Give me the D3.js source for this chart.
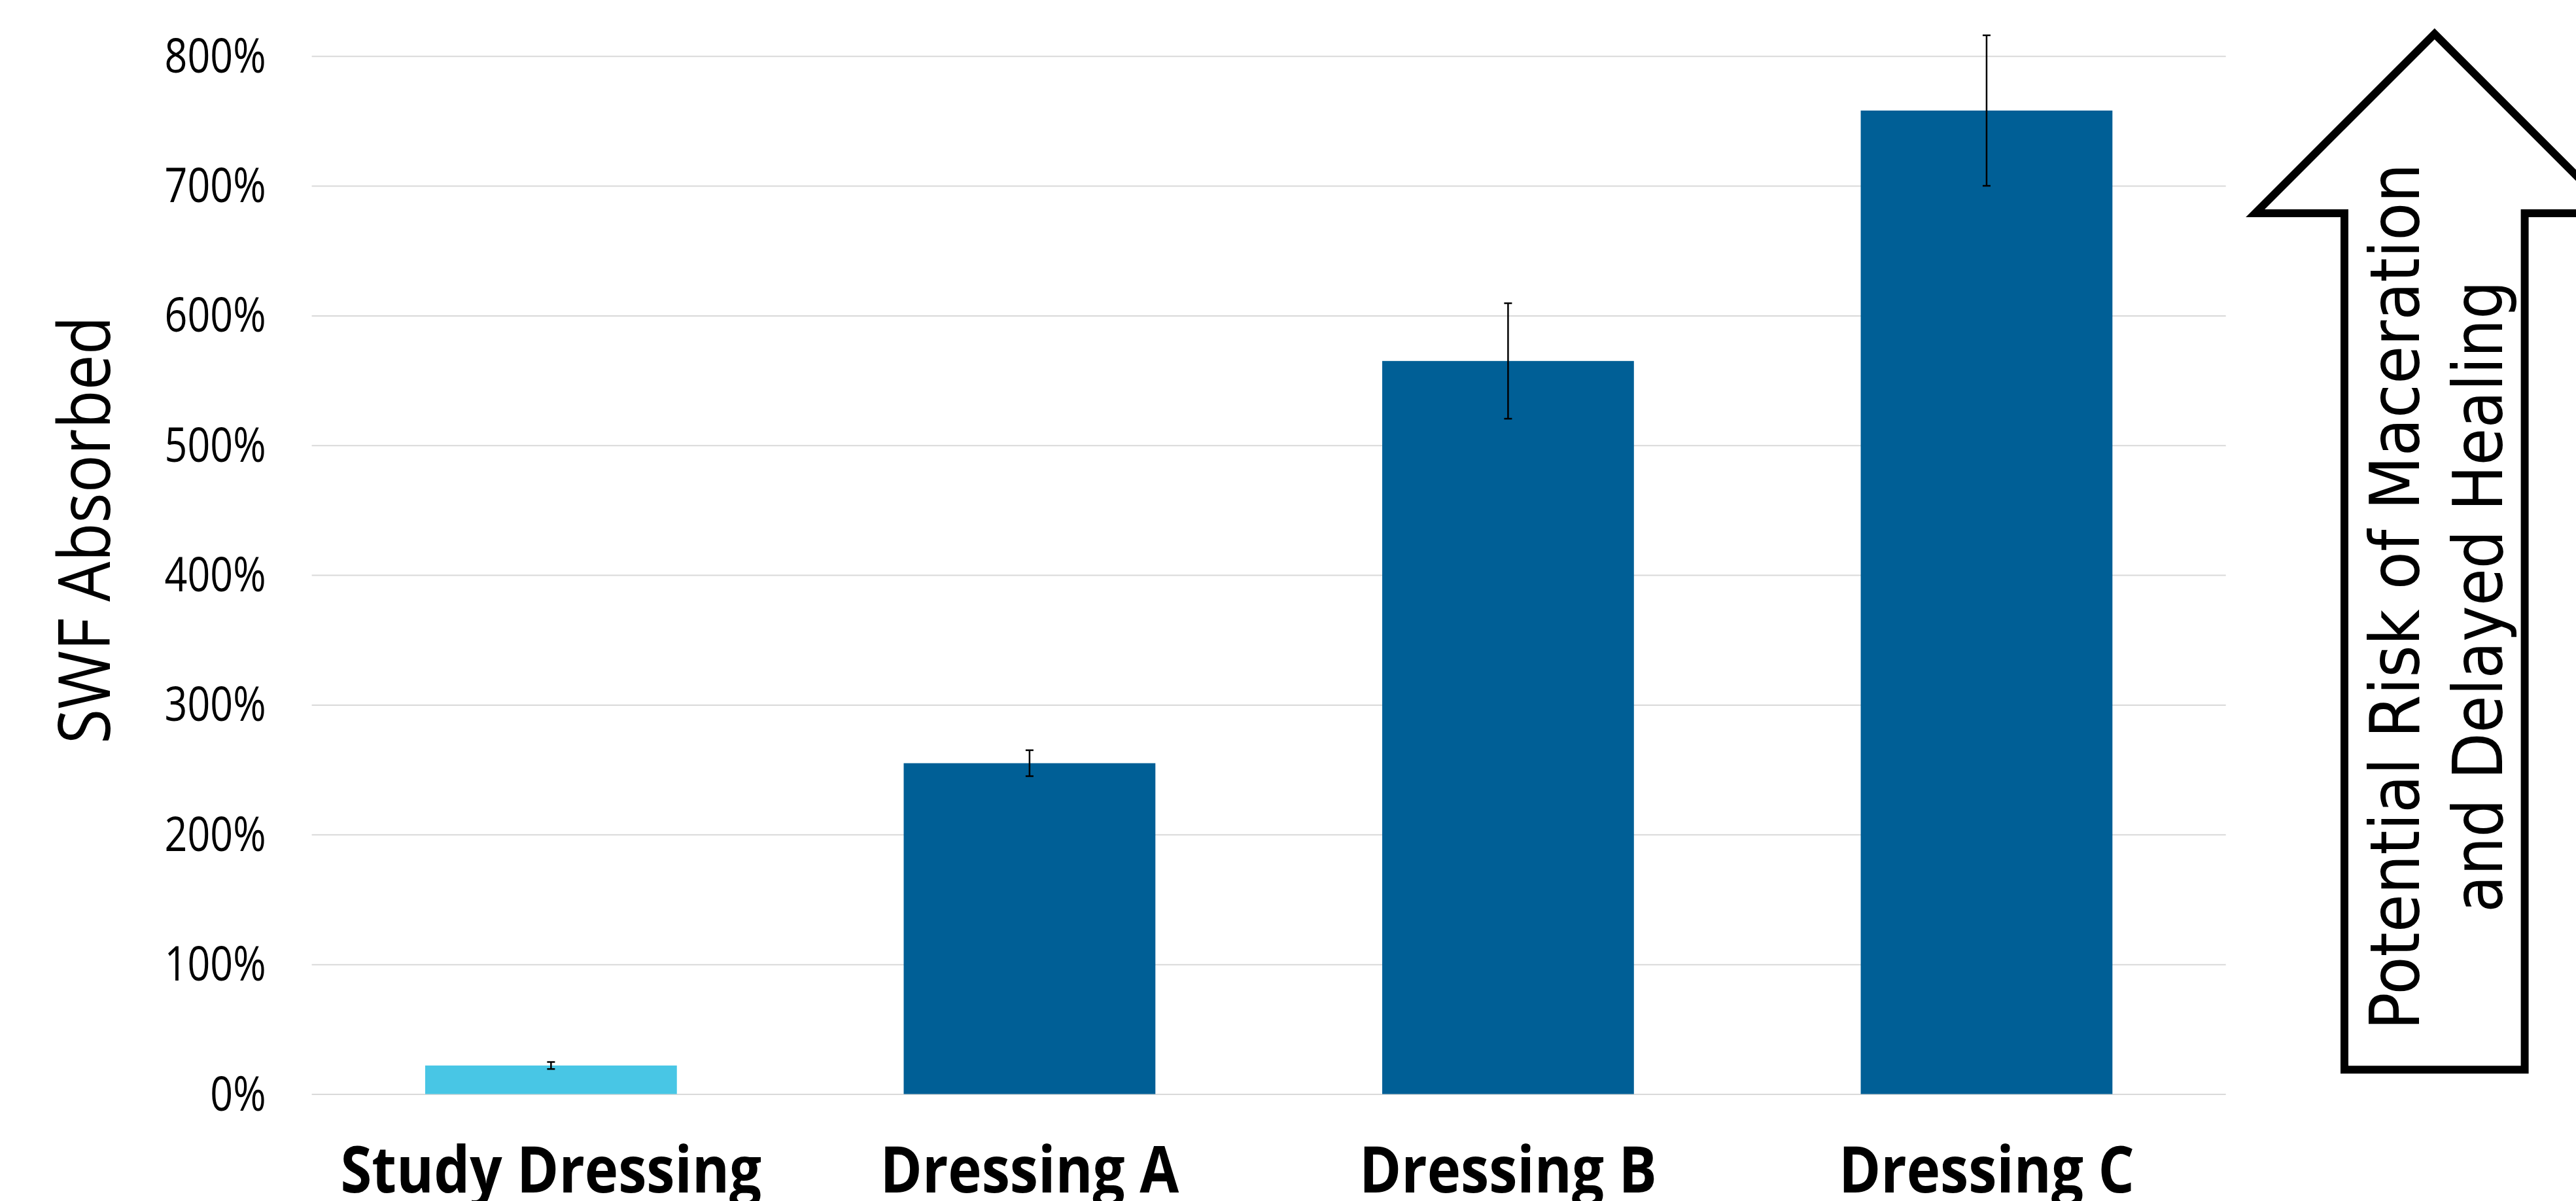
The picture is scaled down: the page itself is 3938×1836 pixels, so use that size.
<!DOCTYPE html>
<html lang="en">
<head>
  <meta charset="UTF-8">
  <title>SWF Absorbed</title>
  <style>
    html, body { margin: 0; padding: 0; background: #fff; }
  </style>
</head>
<body>
<div id="chart"></div>
<script src="https://d3js.org/d3.v7.min.js"></script>
<script type="text/javascript">
  // data
  const categories = ["Study Dressing", "Dressing A", "Dressing B", "Dressing C"];
  const absorbed = [0.22, 2.55, 5.65, 7.58];      // fraction (1 = 100%)
  const errors = [0.027, 0.10, 0.445, 0.58];      // +/- error
  const yTicks = [0, 1, 2, 3, 4, 5, 6, 7, 8];
  const yTitle = "SWF Absorbed";
  const arrowLines = ["Potential Risk of Maceration", "and Delayed Healing"];

  const W = 3938, H = 1836;
  const plotLeft = 476.6, plotRight = 3402.7, plotTop = 85.7, plotBottom = 1672.5;
  const lightBlue = "#48C6E5", darkBlue = "#005F96";

  const svg = d3.select("#chart").append("svg")
    .attr("width", W).attr("height", H)
    .style("display", "block");

  const x = d3.scaleBand()
    .domain(categories)
    .range([plotLeft, plotRight])
    .paddingInner(0.474)
    .paddingOuter(0.237);

  const y = d3.scaleLinear().domain([0, 8]).range([plotBottom, plotTop]);

  // squeeze a set of texts so the reference one gets the width seen in the picture
  function fitTo(sel, refNode, target) {
    const k = target / refNode.getComputedTextLength();
    sel.each(function () {
      const w = this.getComputedTextLength();
      d3.select(this).attr("textLength", w * k).attr("lengthAdjust", "spacingAndGlyphs");
    });
  }

  // gridlines + y tick labels
  const yAxis = svg.append("g")
    .attr("transform", `translate(${plotLeft},0)`)
    .call(d3.axisLeft(y)
      .tickValues(yTicks)
      .tickSize(-(plotRight - plotLeft))
      .tickPadding(70)
      .tickFormat(d => (d * 100) + "%"));
  yAxis.select(".domain").remove();
  yAxis.selectAll(".tick line").attr("stroke", "#D9D9D9").attr("stroke-width", 2);
  const tickText = yAxis.selectAll(".tick text")
    .attr("dy", "24.5px")
    .style("font-family", "'Open Sans'")
    .style("font-size", "73px")
    .attr("fill", "#000");
  fitTo(tickText, tickText.nodes()[tickText.size() - 1], 155);

  // bars
  svg.append("g").selectAll("rect")
    .data(categories)
    .join("rect")
    .attr("x", d => x(d))
    .attr("width", x.bandwidth())
    .attr("y", (d, i) => y(absorbed[i]))
    .attr("height", (d, i) => y(0) - y(absorbed[i]))
    .attr("fill", (d, i) => i === 0 ? lightBlue : darkBlue);

  // error bars
  const eb = svg.append("g").attr("stroke", "#000").attr("stroke-width", 2.5);
  categories.forEach((c, i) => {
    const cx = x(c) + x.bandwidth() / 2;
    const y1 = y(absorbed[i] + errors[i]), y2 = y(absorbed[i] - errors[i]);
    eb.append("line").attr("x1", cx).attr("x2", cx).attr("y1", y1).attr("y2", y2);
    eb.append("line").attr("x1", cx - 6).attr("x2", cx + 6).attr("y1", y1).attr("y2", y1);
    eb.append("line").attr("x1", cx - 6).attr("x2", cx + 6).attr("y1", y2).attr("y2", y2);
  });

  // category labels
  const xl = svg.append("g").selectAll("text")
    .data(categories)
    .join("text")
    .attr("x", d => x(d) + x.bandwidth() / 2)
    .attr("y", 1823)
    .attr("text-anchor", "middle")
    .style("font-family", "'Open Sans'")
    .style("font-weight", "bold")
    .style("font-size", "98px")
    .attr("fill", "#000")
    .text(d => d);
  fitTo(xl, xl.nodes()[3], 452);

  // y axis title
  const yt = svg.append("text")
    .attr("transform", "translate(168.3,810) rotate(-90)")
    .attr("text-anchor", "middle")
    .style("font-family", "'Open Sans'")
    .style("font-size", "110px")
    .attr("fill", "#000")
    .text(yTitle);
  fitTo(yt, yt.node(), 654);

  // arrow on the right
  const ax = 3721.8, sw = 12;
  const arrowPts = [
    [ax, 51.8], [ax + 274.2, 326], [3859.6, 326], [3859.6, 1635.3],
    [3584, 1635.3], [3584, 326], [ax - 274.2, 326]
  ];
  svg.append("path")
    .attr("d", d3.line()(arrowPts) + "Z")
    .attr("fill", "#fff")
    .attr("stroke", "#000")
    .attr("stroke-width", sw)
    .attr("stroke-linejoin", "miter")
    .attr("stroke-miterlimit", 10);

  const lineX = [3697.5, 3825];
  const lineLen = [1325, 966];
  arrowLines.forEach((t, i) => {
    const tx = svg.append("text")
      .attr("transform", `translate(${lineX[i]},912) rotate(-90)`)
      .attr("text-anchor", "middle")
      .style("font-family", "'DejaVu Sans'")
      .style("font-size", "105px")
      .attr("fill", "#000")
      .text(t);
    fitTo(tx, tx.node(), lineLen[i]);
  });
</script>
</body>
</html>
